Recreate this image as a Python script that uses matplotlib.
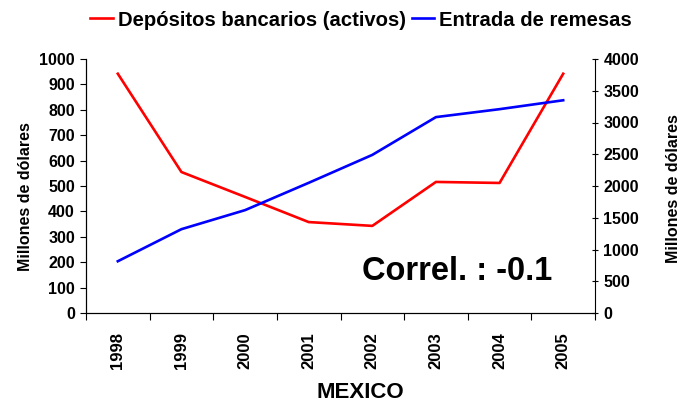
import matplotlib
matplotlib.use("Agg")
import matplotlib.pyplot as plt
from matplotlib.ticker import MultipleLocator

years = ["1998", "1999", "2000", "2001", "2002", "2003", "2004", "2005"]
depositos = [942, 555, 457, 358, 343, 516, 512, 942]
remesas = [815, 1320, 1620, 2050, 2490, 3085, 3210, 3350]

plt.rcParams["font.family"] = ["Liberation Sans", "DejaVu Sans"]
plt.rcParams["font.weight"] = "bold"

fig = plt.figure(figsize=(6.82, 4.01), dpi=100)
ax = fig.add_axes([86 / 682, 88 / 401, 509 / 682, 254 / 401])
ax2 = ax.twinx()

x = list(range(len(years)))
l1, = ax.plot(x, depositos, color="#ff0000", lw=1.9)
l2, = ax2.plot(x, remesas, color="#0000ff", lw=1.9)

ax.set_xlim(-0.5, len(years) - 0.5)
ax.set_ylim(0, 1000)
ax2.set_ylim(0, 4000)
ax.yaxis.set_major_locator(MultipleLocator(100))
ax2.yaxis.set_major_locator(MultipleLocator(500))

# category ticks sit between the years, labels sit under each year
ax.set_xticks([i - 0.5 for i in range(len(years) + 1)])
ax.set_xticklabels([])
ax.set_xticks(x, minor=True)
ax.set_xticklabels(years, minor=True, rotation=90, fontsize=12, fontweight="bold")
ax.tick_params(axis="x", which="minor", length=0, pad=14)
ax.tick_params(axis="x", which="major", length=5, direction="out")

ax.tick_params(axis="y", length=4, direction="out", labelsize=11.5, pad=4)
ax2.tick_params(axis="y", length=4, direction="inout", labelsize=11.5, pad=4)
for lab in ax.get_yticklabels() + ax2.get_yticklabels():
    lab.set_fontweight("bold")

for a in (ax, ax2):
    a.spines["top"].set_visible(False)
ax.spines["right"].set_visible(False)

ax.set_ylabel("Millones de dólares", fontsize=11.5, fontweight="bold")
ax.yaxis.set_label_coords(-0.104, 0.46)
ax2.set_ylabel("Millones de dólares", fontsize=11.5, fontweight="bold")
ax2.yaxis.set_label_coords(1.14, 0.49)

fig.text(360 / 682, 1 - 392 / 401, "MEXICO", fontsize=16, fontweight="bold",
         ha="center", va="center")

ax.text(0.729, 0.165, "Correl. : -0.1", transform=ax.transAxes, fontsize=23.5,
        fontweight="bold", ha="center", va="center")

fig.legend([l1, l2], ["Depósitos bancarios (activos)", "Entrada de remesas"],
           loc="center", bbox_to_anchor=(361 / 682, 1 - 20 / 401), ncol=2,
           frameon=False, handlelength=1.1, handletextpad=0.25,
           columnspacing=0.3, borderpad=0, borderaxespad=0,
           prop={"weight": "bold", "size": 14.6})

fig.savefig("out.png", dpi=100)
